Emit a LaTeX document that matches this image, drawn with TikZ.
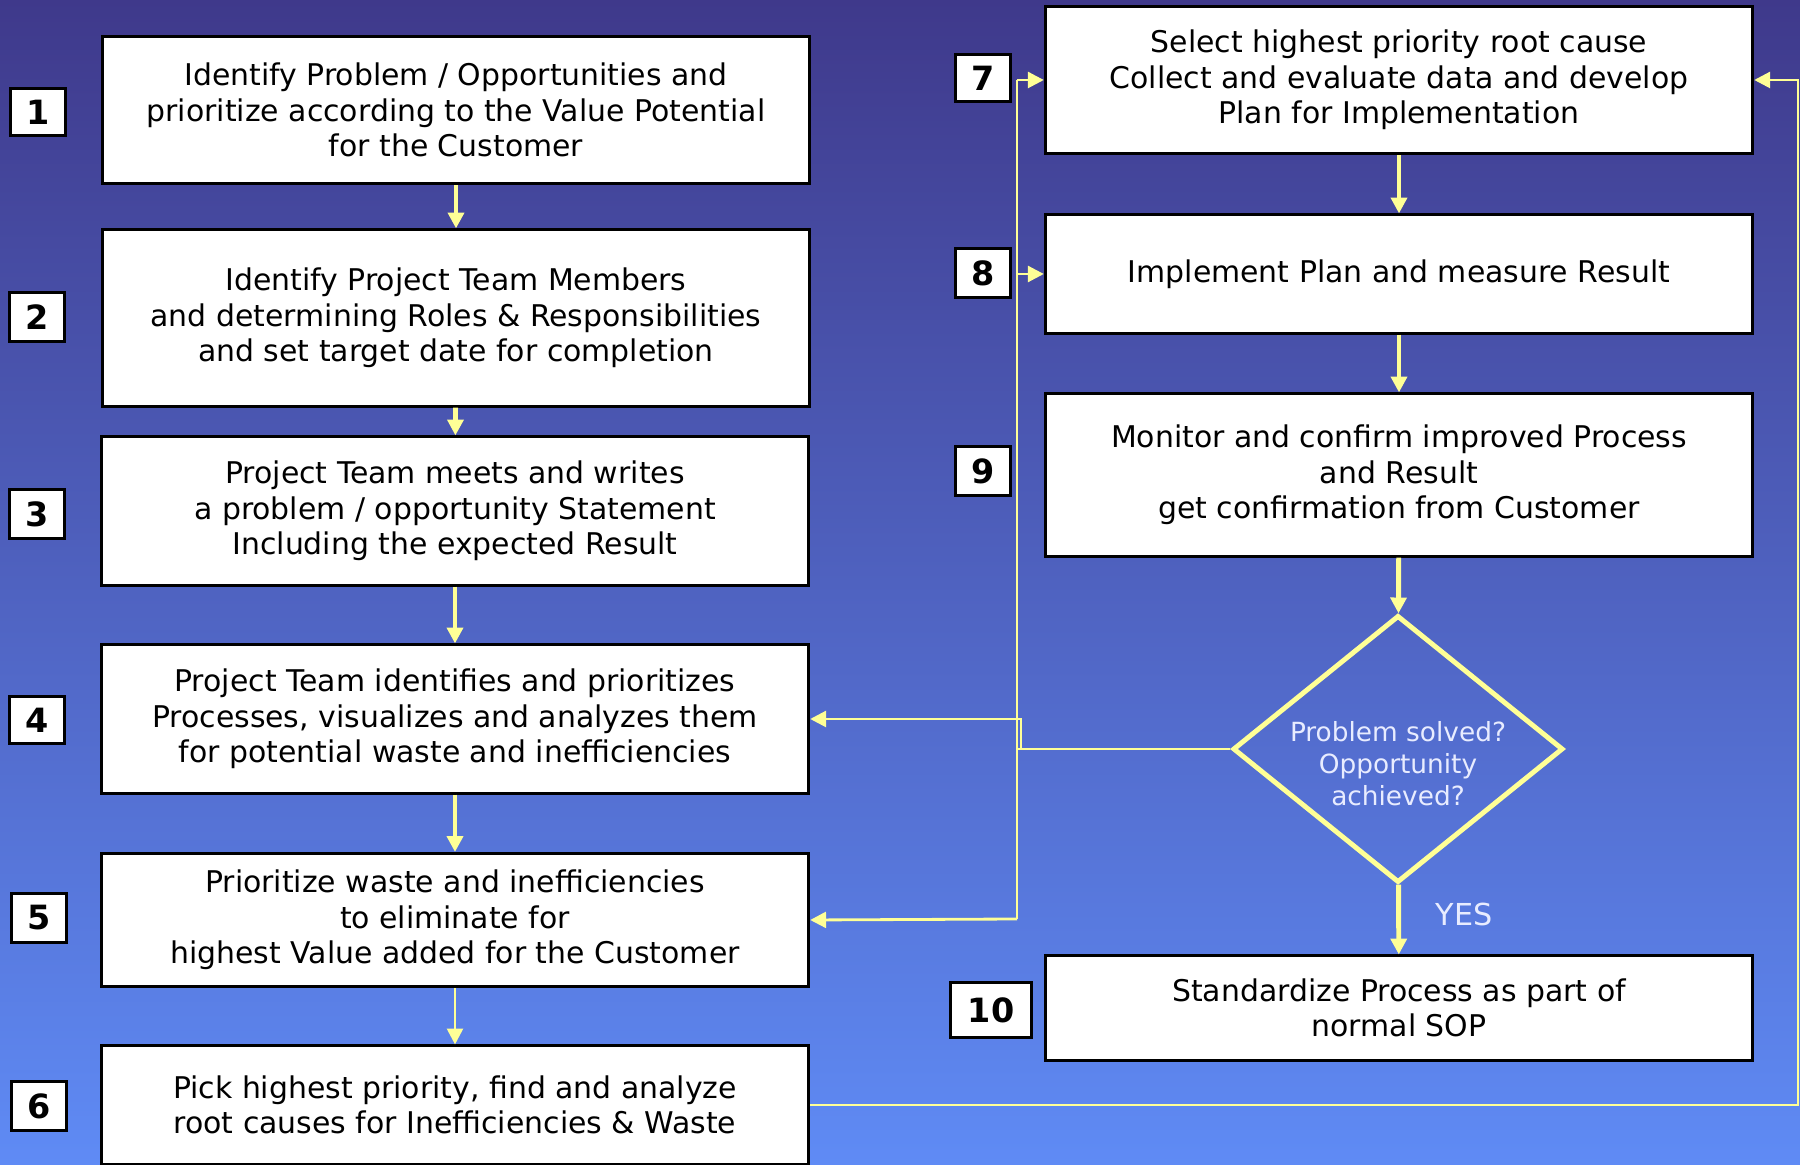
\documentclass[tikz,border=0pt]{standalone}
\usepackage{fontspec}
\setmainfont{DejaVu Sans}
\usetikzlibrary{shapes.geometric, arrows.meta, positioning}
\definecolor{bgtop}{RGB}{63,57,139}
\definecolor{bgbot}{RGB}{95,139,245}
\definecolor{flow}{RGB}{255,255,150}
\definecolor{qtext}{RGB}{232,236,255}
\tikzstyle{process} = [rectangle, minimum width=7.07cm, text centered, align=center, draw=black, line width=0.85pt, fill=white, font=\fontsize{8.5}{10.1}\selectfont]
\tikzstyle{numbox} = [rectangle, minimum width=0.55cm, minimum height=0.47cm, draw=black, line width=0.85pt, fill=white, font=\fontsize{9.5}{11}\selectfont\bfseries]
\tikzstyle{decision} = [diamond, aspect=1.24, inner sep=0pt, minimum width=3.3cm, minimum height=2.67cm, draw=flow, line width=1.4pt]
\tikzstyle{arrow} = [draw=flow, line width=1.4pt, -{Triangle[length=4.5pt,width=4.5pt]}]
\tikzstyle{thinarrow} = [draw=flow, line width=0.8pt, -{Triangle[length=4.5pt,width=4.5pt]}]
\tikzstyle{link} = [draw=flow, line width=0.8pt]

\begin{document}
\begin{tikzpicture}[x=0.01cm, y=-0.01cm]

\useasboundingbox (0,0) rectangle (1800,1165);
\fill[top color=bgtop, bottom color=bgbot] (0,0) rectangle (1800,1165);

% left column
\node (b1) [process, minimum height=1.47cm] at (456,110) {Identify Problem / Opportunities and\\prioritize according to the Value Potential\\for the Customer};
\node (b2) [process, minimum height=1.76cm] at (456,318) {Identify Project Team Members\\and determining Roles \& Responsibilities\\and set target date for completion};
\node (b3) [process, minimum height=1.48cm] at (455,511) {Project Team meets and writes\\a problem / opportunity Statement\\Including the expected Result};
\node (b4) [process, minimum height=1.48cm] at (455,719) {Project Team identifies and prioritizes\\Processes, visualizes and analyzes them\\for potential waste and inefficiencies};
\node (b5) [process, minimum height=1.33cm] at (455,920) {Prioritize waste and inefficiencies\\to eliminate for\\highest Value added for the Customer};
\node (b6) [process, minimum height=1.18cm] at (455,1105) {Pick highest priority, find and analyze\\root causes for Inefficiencies \& Waste};

% right column
\node (b7) [process, minimum height=1.47cm] at (1399,80) {Select highest priority root cause\\Collect and evaluate data and develop\\Plan for Implementation};
\node (b8) [process, minimum height=1.18cm] at (1399,274) {Implement Plan and measure Result};
\node (b9) [process, minimum height=1.62cm] at (1399,475) {Monitor and confirm improved Process\\and Result\\get confirmation from Customer};
\node (dia) [decision] at (1398,749) {};
\node (dtext) [text=qtext, align=center, font=\fontsize{7.5}{9.1}\selectfont] at (1398,764) {Problem solved?\\Opportunity\\achieved?};
\node (b10) [process, minimum height=1.04cm] at (1399,1008) {Standardize Process as part of\\normal SOP};

% step numbers
\node (n1) [numbox] at (38,112) {1};
\node (n2) [numbox] at (37,317) {2};
\node (n3) [numbox] at (37,514) {3};
\node (n4) [numbox] at (37,720) {4};
\node (n5) [numbox] at (39,918) {5};
\node (n6) [numbox] at (39,1106) {6};
\node (n7) [numbox] at (983,78) {7};
\node (n8) [numbox] at (983,273) {8};
\node (n9) [numbox] at (983,471) {9};
\node (n10) [numbox, minimum width=0.8cm, minimum height=0.54cm] at (991,1010) {10};

\node (yes) [text=qtext, font=\fontsize{8.6}{10}\selectfont] at (1464,914) {YES};

% main flow
\draw [arrow] (b1) -- (b2);
\draw [arrow] (b2) -- (b3);
\draw [arrow] (b3) -- (b4);
\draw [arrow] (b4) -- (b5);
\draw [thinarrow] (b5) -- (b6);
\draw [arrow] (b7) -- (b8);
\draw [arrow] (b8) -- (b9);
\draw [arrow] (b9) -- (dia);
\draw [arrow] (dia) -- (b10);

% feedback loops
\coordinate (bustop) at (1017,80);
\coordinate (busbot) at (1017,919);
\coordinate (jog) at (1021,749);
\coordinate (loop) at (1798,80);
\draw [link] (dia.west) -- (dia.west -| bustop);
\draw [link] (bustop) -- (busbot);
\draw [thinarrow] (jog) |- (b4.east);
\draw [thinarrow] (bustop) -- (b7.west);
\draw [thinarrow] (bustop |- b8.west) -- (b8.west);
\draw [thinarrow] (busbot) -- (b5.east);
\draw [thinarrow] (b6.east) -| (loop) -- (b7.east);

\end{tikzpicture}
\end{document}
